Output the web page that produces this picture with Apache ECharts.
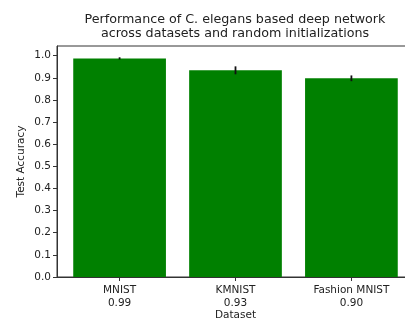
<!DOCTYPE html>
<html>
<head>
<meta charset="utf-8">
<script src="https://cdn.jsdelivr.net/npm/echarts@6/dist/echarts.min.js"></script>
<style>
  html, body { margin: 0; padding: 0; background: #fff; }
  #chart { width: 405px; height: 320px; }
</style>
</head>
<body>
<div id="chart"></div>
<script>
// Mean test accuracy per dataset, with spread across random initializations
const categories = ['MNIST', 'KMNIST', 'Fashion MNIST'];
const accuracy = [0.988, 0.934, 0.898];
const accuracyErr = [0.005, 0.018, 0.013];
const yTicks = [0, 0.1, 0.2, 0.3, 0.4, 0.5, 0.6, 0.7, 0.8, 0.9, 1.0];
const xPositions = categories.map((_, i) => i);

const FONT = 'DejaVu Sans';
const TEXT = '#222';
const AXIS = '#333';

const chart = echarts.init(document.getElementById('chart'), null, { renderer: 'canvas' });

chart.setOption({
  animation: false,
  backgroundColor: '#fff',
  title: {
    text: 'Performance of C. elegans based deep network\nacross datasets and random initializations',
    left: 235,
    top: 13,
    padding: 0,
    textAlign: 'center',
    textStyle: { fontFamily: FONT, fontSize: 12.7, fontWeight: 'normal', color: TEXT, lineHeight: 13.5 }
  },
  grid: {
    left: 57, top: 46, width: 357, height: 231,
    outerBoundsMode: 'none',
    containLabel: false,
    show: true, borderColor: AXIS, borderWidth: 1, backgroundColor: 'transparent'
  },
  xAxis: {
    type: 'value',
    min: -0.54,
    max: 2.54,
    name: 'Dataset',
    nameLocation: 'middle',
    nameGap: 33,
    nameMoveOverlap: false,
    nameTextStyle: { fontFamily: FONT, fontSize: 10.5, color: TEXT },
    splitLine: { show: false },
    axisLine: { show: true, onZero: false, lineStyle: { color: AXIS, width: 1 } },
    axisTick: { show: true, length: 4, customValues: xPositions, lineStyle: { color: AXIS } },
    axisLabel: {
      customValues: xPositions,
      margin: 6.5,
      fontFamily: FONT, fontSize: 10.5, color: TEXT, lineHeight: 13,
      formatter: v => {
        const i = Math.round(v);
        return categories[i] + '\n' + accuracy[i].toFixed(2);
      }
    }
  },
  yAxis: {
    type: 'value',
    min: 0,
    max: 1.044,
    name: 'Test Accuracy',
    nameLocation: 'middle',
    nameGap: 30,
    nameMoveOverlap: false,
    nameTextStyle: { fontFamily: FONT, fontSize: 10.5, color: TEXT },
    splitLine: { show: false },
    axisLine: { show: true, onZero: false, lineStyle: { color: AXIS, width: 1 } },
    axisTick: { show: true, length: 4, customValues: yTicks, lineStyle: { color: AXIS } },
    axisLabel: {
      customValues: yTicks,
      margin: 6,
      fontFamily: FONT, fontSize: 10.5, color: TEXT,
      formatter: v => v.toFixed(1)
    }
  },
  series: [
    {
      type: 'bar',
      barWidth: 92.7,
      itemStyle: { color: '#008000' },
      data: accuracy.map((v, i) => [xPositions[i], v])
    },
    {
      type: 'custom',
      z: 5,
      data: accuracy.map((v, i) => [xPositions[i], v - accuracyErr[i], v + accuracyErr[i]]),
      renderItem: (params, api) => {
        const lo = api.coord([api.value(0), api.value(1)]);
        const hi = api.coord([api.value(0), api.value(2)]);
        return {
          type: 'line',
          shape: { x1: lo[0], y1: lo[1], x2: hi[0], y2: hi[1] },
          style: { stroke: '#111', lineWidth: 1.8 }
        };
      }
    }
  ]
});
</script>
</body>
</html>
